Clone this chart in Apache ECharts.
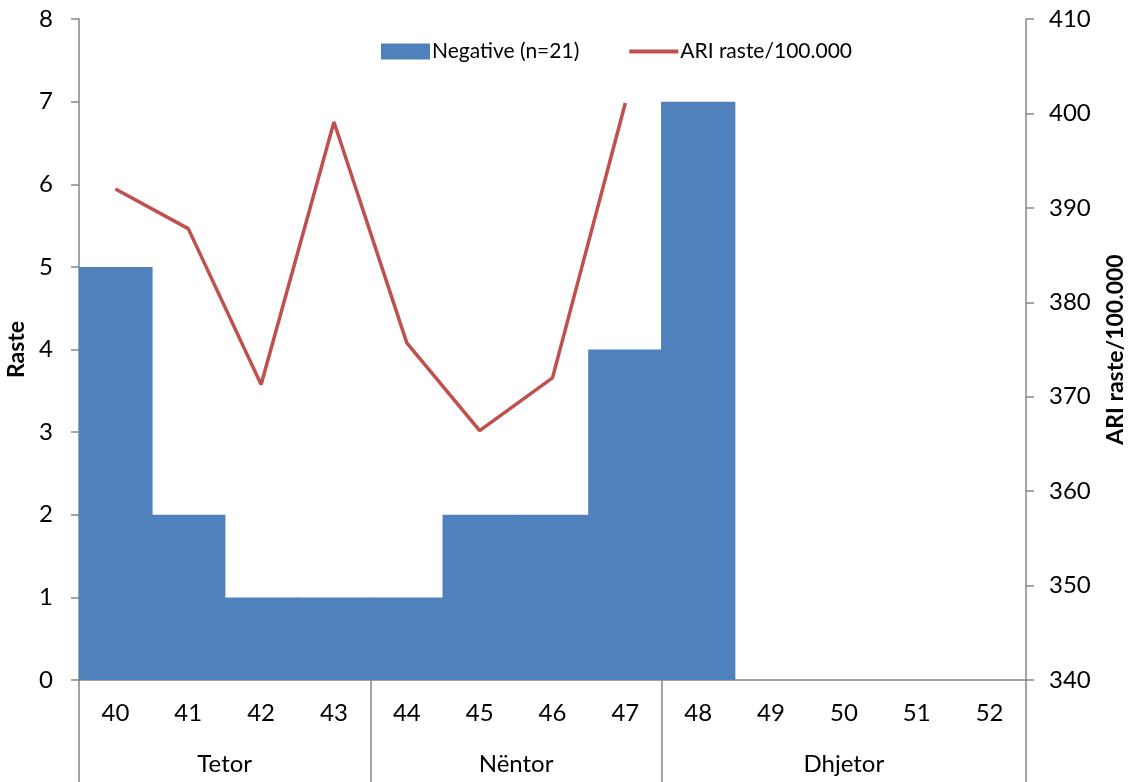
<!DOCTYPE html>
<html>
<head>
<meta charset="utf-8">
<script src="https://cdn.jsdelivr.net/npm/echarts@6/dist/echarts.min.js"></script>
<style>
  html, body { margin: 0; padding: 0; background: #fff; }
  #chart { width: 1131px; height: 782px; }
</style>
</head>
<body>
<div id="chart"></div>
<script>
// javet (kategorite)
var weeks = ['40', '41', '42', '43', '44', '45', '46', '47', '48', '49', '50', '51', '52'];
// muajt dhe sa java ka secili
var months = ['Tetor', 'Nëntor', 'Dhjetor'];
var monthSpans = [4, 4, 5];
// raste negative
var negative = [5, 2, 1, 1, 1, 2, 2, 4, 7, null, null, null, null];
// ARI raste/100.000
var ariRate = [392, 387.8, 371.3, 399.1, 375.7, 366.4, 372, 401.1, null, null, null, null, null];

var font = 'Lato';
var textColor = '#000';
var axisColor = '#868686';
var labelSize = 24;

// kufijte dhe qendrat e muajve
var monthEdges = [0];
var monthCenters = [];
monthSpans.forEach(function (s, i) {
    monthCenters.push(monthEdges[i] + s / 2);
    monthEdges.push(monthEdges[i] + s);
});

var chart = echarts.init(document.getElementById('chart'));
chart.setOption({
    animation: false,
    textStyle: { fontFamily: font, color: textColor },
    grid: { left: 79, right: 105, top: 19, bottom: 102, containLabel: false, outerBoundsMode: 'none' },
    legend: {
        left: 376,
        top: 36,
        itemWidth: 49,
        itemHeight: 16,
        itemGap: 48,
        textStyle: { fontFamily: font, fontSize: 21, color: textColor, padding: [0, 0, 0, -3] },
        data: [
            { name: 'Negative (n=21)', icon: 'rect' },
            { name: 'ARI raste/100.000', itemStyle: { opacity: 0 }, lineStyle: { width: 4 } }
        ]
    },
    xAxis: [
        {
            type: 'category',
            data: weeks,
            boundaryGap: true,
            axisLine: { lineStyle: { color: axisColor, width: 1.5 } },
            axisTick: { interval: 0, length: 52, lineStyle: { color: axisColor, width: 1.5 } },
            axisLabel: { interval: 0, margin: 21, fontSize: labelSize, color: textColor, fontFamily: font }
        },
        {
            type: 'value',
            position: 'bottom',
            min: 0,
            max: weeks.length,
            axisLine: { show: false },
            splitLine: { show: false },
            axisTick: {
                show: true,
                customValues: monthEdges,
                length: 102,
                lineStyle: { color: axisColor, width: 1.5 }
            },
            axisLabel: {
                customValues: monthCenters,
                margin: 72,
                fontSize: labelSize,
                color: textColor,
                fontFamily: font,
                formatter: function (v) {
                    var i = monthCenters.indexOf(v);
                    return i >= 0 ? months[i] : '';
                }
            }
        }
    ],
    yAxis: [
        {
            type: 'value',
            name: 'Raste',
            nameLocation: 'middle',
            nameGap: 49,
            nameRotate: 90,
            nameTextStyle: { fontWeight: 'bold', fontSize: 23, color: textColor, fontFamily: font },
            min: 0,
            max: 8,
            interval: 1,
            splitLine: { show: false },
            axisLine: { show: true, lineStyle: { color: axisColor, width: 1.5 } },
            axisTick: { show: true, length: 8, lineStyle: { color: axisColor, width: 1.5 } },
            axisLabel: { margin: 26, fontSize: labelSize, color: textColor, fontFamily: font }
        },
        {
            type: 'value',
            name: 'ARI raste/100.000',
            nameLocation: 'middle',
            nameGap: 78,
            nameRotate: 90,
            nameTextStyle: { fontWeight: 'bold', fontSize: 23, color: textColor, fontFamily: font },
            min: 340,
            max: 410,
            interval: 10,
            splitLine: { show: false },
            axisLine: { show: true, lineStyle: { color: axisColor, width: 1.5 } },
            axisTick: { show: true, length: 8, lineStyle: { color: axisColor, width: 1.5 } },
            axisLabel: { margin: 23, fontSize: labelSize, color: textColor, fontFamily: font }
        }
    ],
    series: [
        {
            name: 'Negative (n=21)',
            type: 'bar',
            xAxisIndex: 0,
            yAxisIndex: 0,
            barCategoryGap: '-2%',
            itemStyle: { color: '#4F81BD' },
            data: negative
        },
        {
            name: 'ARI raste/100.000',
            type: 'line',
            xAxisIndex: 0,
            yAxisIndex: 1,
            symbol: 'none',
            lineStyle: { color: '#C0504D', width: 3.5 },
            itemStyle: { color: '#C0504D' },
            data: ariRate
        }
    ]
});
</script>
</body>
</html>
